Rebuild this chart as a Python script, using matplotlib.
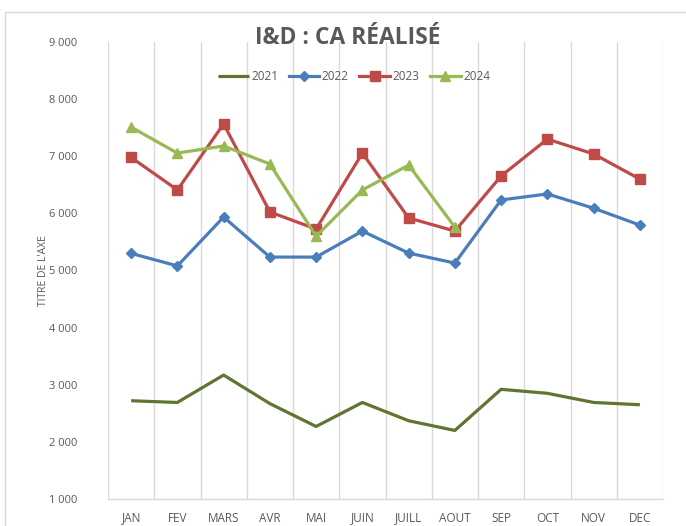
import matplotlib
matplotlib.use("Agg")
import matplotlib.pyplot as plt
from matplotlib.patches import Rectangle
from matplotlib.ticker import FuncFormatter, MultipleLocator
import numpy as np

months = ["JAN", "FEV", "MARS", "AVR", "MAI", "JUIN", "JUILL", "AOUT", "SEP", "OCT", "NOV", "DEC"]
v2021 = [2720, 2690, 3170, 2670, 2270, 2690, 2370, 2200, 2920, 2850, 2690, 2650]
v2022 = [5300, 5080, 5935, 5235, 5235, 5690, 5305, 5130, 6235, 6340, 6090, 5795]
v2023 = [6980, 6410, 7565, 6025, 5725, 7055, 5920, 5690, 6655, 7300, 7040, 6600]
v2024 = [7510, 7055, 7180, 6865, 5600, 6410, 6845, 5760]

plt.rcParams['font.family'] = ['Open Sans', 'DejaVu Sans']
grey = '#595959'

fig = plt.figure(figsize=(6.86, 5.26), dpi=100)
fig.patches.append(Rectangle((5/686, -0.01), 1.0, 1 - 12/526 + 0.01, transform=fig.transFigure,
                             fill=False, edgecolor='#D9D9D9', linewidth=1.0))
ax = fig.add_axes([108/686, 1 - 499/526, (663 - 108)/686, (499 - 42)/526])

x = np.arange(len(months))
ax.plot(x, v2021, color='#5F7530', lw=2.3, label='2021', solid_capstyle='butt')
ax.plot(x, v2022, color='#4A7EBB', lw=2.3, marker='D', ms=5.5, label='2022')
ax.plot(x, v2023, color='#BE4B48', lw=2.3, marker='s', ms=7.5, label='2023')
ax.plot(np.arange(len(v2024)), v2024, color='#98B954', lw=2.3, marker='^', ms=7.5, label='2024')

ax.set_xlim(-0.5, 11.5)
ax.set_ylim(1000, 9000)
ax.yaxis.set_major_locator(MultipleLocator(1000))
ax.yaxis.set_major_formatter(FuncFormatter(lambda v, p: f"{int(v):,}".replace(",", " ")))
ax.set_xticks(x)
ax.set_xticklabels(months)
ax.set_xticks(np.arange(-0.5, 12, 1), minor=True)
ax.grid(True, which='minor', axis='x', color='#D9D9D9', lw=1.0)
ax.grid(False, which='major')
ax.tick_params(axis='both', which='both', length=0)
ax.tick_params(axis='x', colors=grey, labelsize=8.5, pad=9)
ax.tick_params(axis='y', colors=grey, labelsize=8, pad=22)
for s in ['top', 'right', 'left']:
    ax.spines[s].set_visible(False)
ax.spines['bottom'].set_color('#D9D9D9')
ax.spines['bottom'].set_linewidth(1.0)
ax.set_axisbelow(True)

ax.set_ylabel("TITRE DE L'AXE", color=grey, fontsize=7.5)
ax.yaxis.set_label_coords(-0.107, 0.50)

fig.text(348/686, 1 - 38/526, "I&D : CA RÉALISÉ", ha='center', va='center',
         fontsize=16.5, fontweight='bold', color=grey)

leg = ax.legend(loc='center', bbox_to_anchor=(354/686, 1 - 77/526), bbox_transform=fig.transFigure,
                ncol=4, frameon=False, fontsize=8.5, handlelength=2.6, handletextpad=0.2,
                columnspacing=0.9, labelcolor=grey)

fig.savefig("out.png", dpi=100)
